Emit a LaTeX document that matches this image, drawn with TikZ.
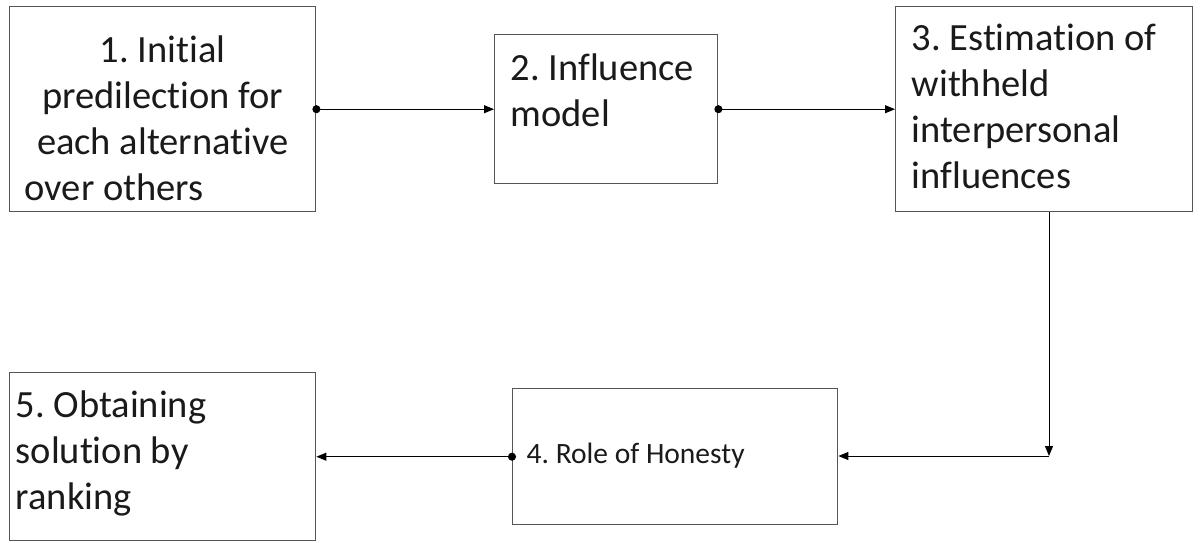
\documentclass[tikz,border=0pt]{standalone}
\usepackage{fontspec}
\setmainfont{Carlito}[Ligatures=NoCommon]
\usepackage{tikz}
\usetikzlibrary{arrows.meta}

\newcommand{\bigfont}{\frenchspacing\fontsize{38.5}{46}\selectfont}
\newcommand{\smallfont}{\frenchspacing\fontsize{29.5}{36}\selectfont}
\definecolor{boxgray}{HTML}{555555}
\definecolor{ink}{HTML}{1A1A1A}

\begin{document}
\begin{tikzpicture}[x=1pt,y=-1pt,
    box/.style={draw=boxgray,line width=1.4pt,inner ysep=0pt,anchor=north west,
                font=\bigfont,text=ink,align=flush left},
    flow/.style={line width=1pt,-{Triangle[length=10pt,width=8pt]}},
    dotflow/.style={flow,{Circle[length=8pt]}-{Triangle[length=10pt,width=8pt]},shorten <=-4pt}]

      \useasboundingbox (0,0) rectangle (1200,542);

      \node[box,align=flush center,inner xsep=15pt,text width=276pt,text height=56pt,text depth=149pt]
            (b1) at (9,6) {1. Initial\\ predilection for\\ each alternative\\ over others\hfill\null};
      \node[box,inner xsep=16pt,text width=191pt,text height=46pt,text depth=103pt]
            (b2) at (494,34) {2. Influence\\ model};
      \node[box,inner xsep=16pt,text width=265pt,text height=44pt,text depth=161pt]
            (b3) at (895,6) {3. Estimation of\\ withheld\\ interpersonal\\ influences};
      \node[box,font=\smallfont,inner xsep=14pt,text width=297pt,text height=75pt,text depth=61pt]
            (b4) at (512,388) {4. Role of Honesty};
      \node[box,inner xsep=6pt,text width=294pt,text height=45pt,text depth=123pt]
            (b5) at (9,372) {5. Obtaining\\ solution by\\ ranking};

      \coordinate (c) at (1049,456);

      \draw (b1) edge[dotflow] (b2);
      \draw (b2) edge[dotflow] (b3);
      \draw (b3.south -| c) edge[flow] (c);
      \draw (c) edge[flow] (b4.east |- c);
      \draw (b4.west) edge[dotflow] (b4.west -| b5.east);
    \end{tikzpicture}
\end{document}
